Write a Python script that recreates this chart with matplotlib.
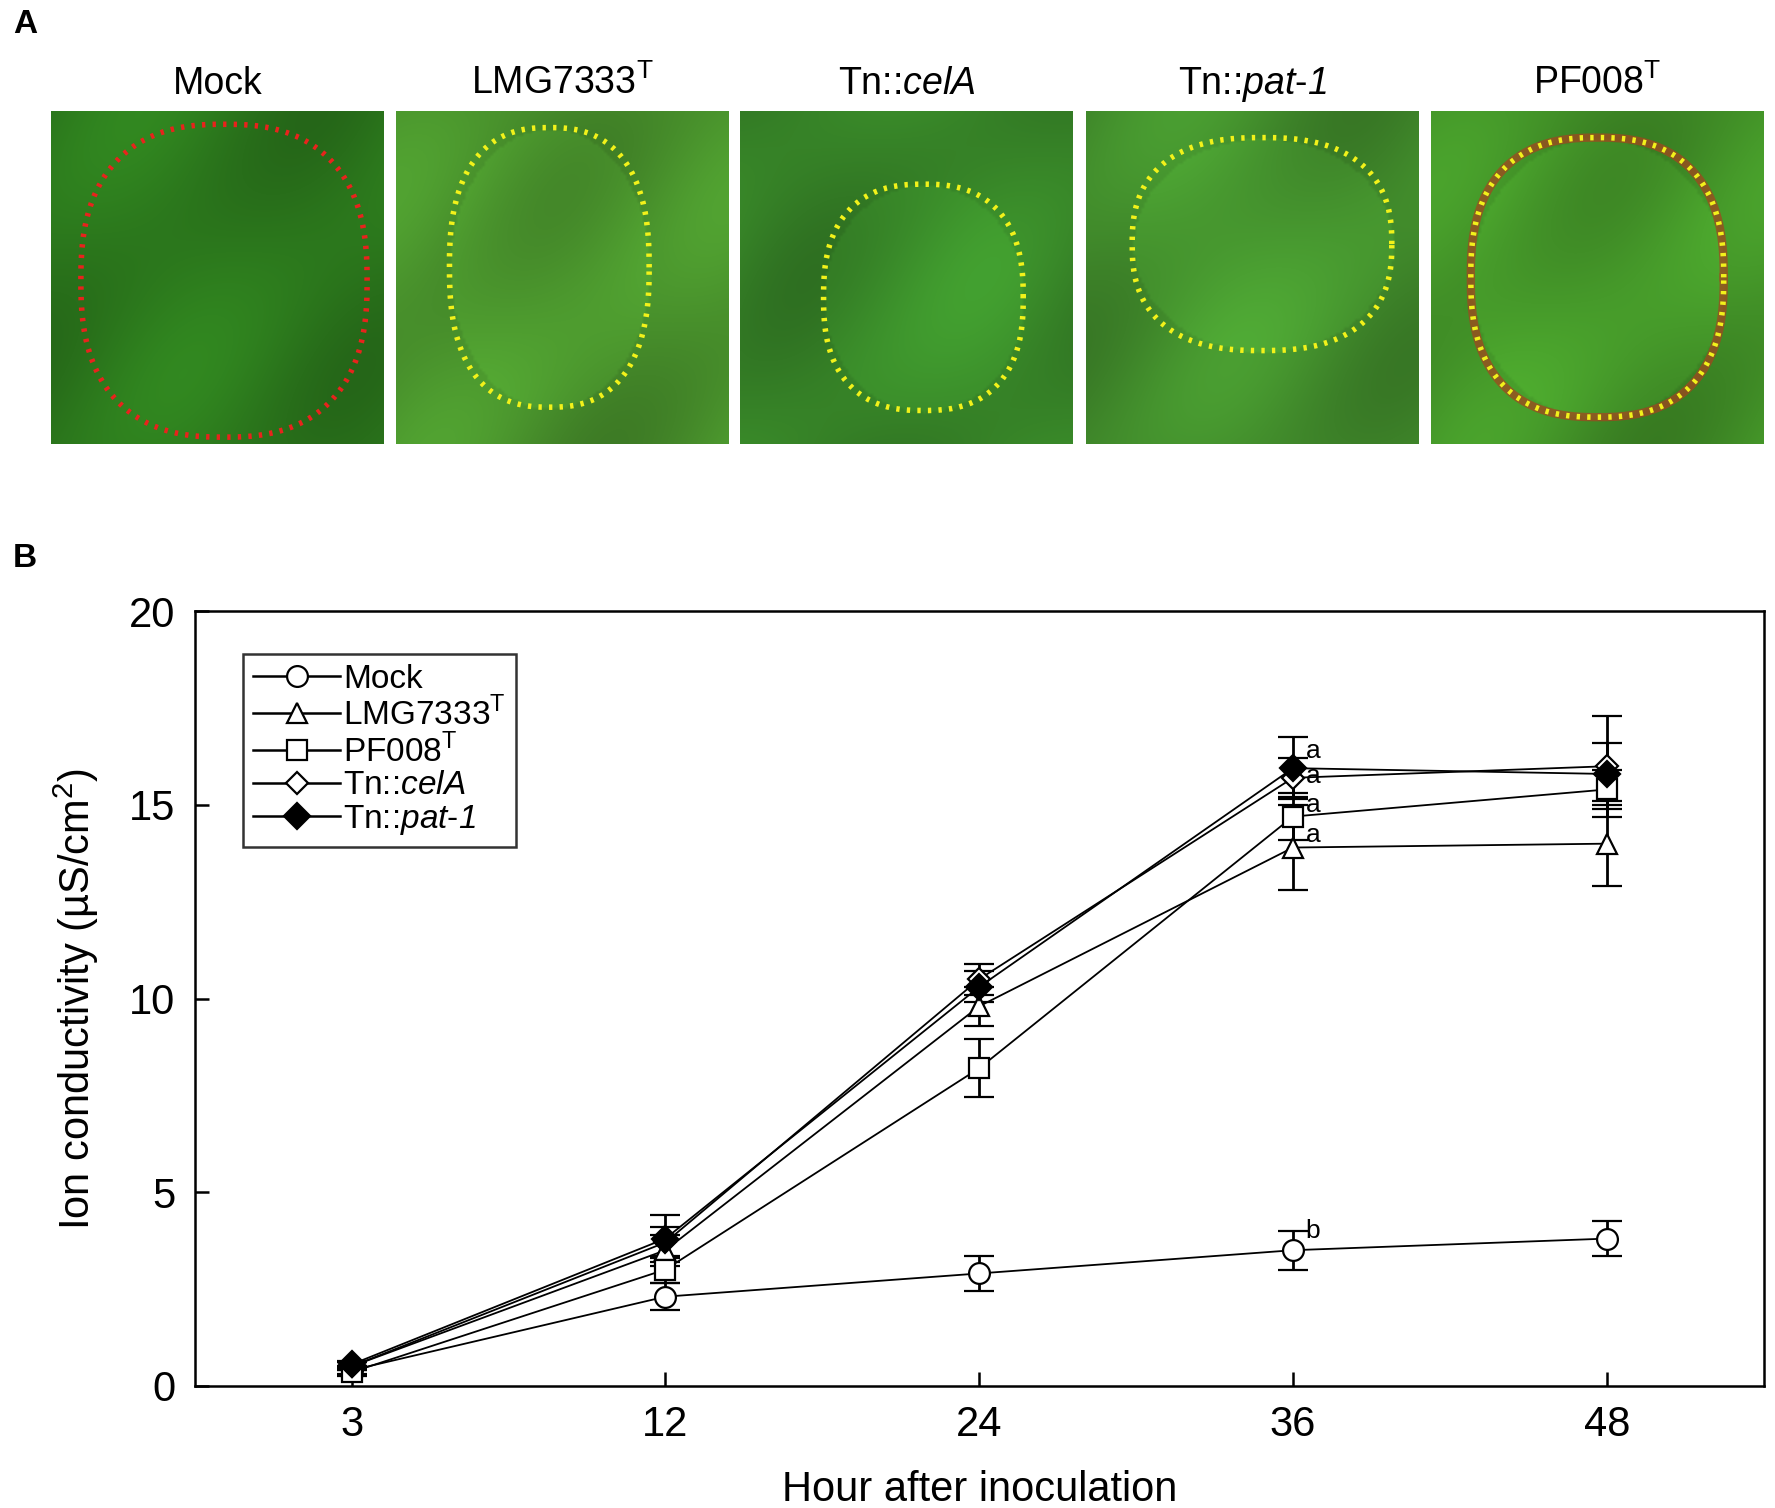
import numpy as np
import matplotlib
matplotlib.use('Agg')
import matplotlib.pyplot as plt
from matplotlib.lines import Line2D

plt.rcParams['font.family'] = ['Liberation Sans Narrow', 'Liberation Sans', 'DejaVu Sans']
plt.rcParams['mathtext.fontset'] = 'custom'
plt.rcParams['mathtext.rm'] = 'Liberation Sans'
plt.rcParams['mathtext.sf'] = 'Liberation Sans:italic'

# ---- data ----
hours = ['3', '12', '24', '36', '48']
strains = ['Mock', 'LMG7333$^\\mathrm{T}$', 'PF008$^\\mathrm{T}$',
           'Tn::$\\mathsf{celA}$', 'Tn::$\\mathsf{pat}$-$\\mathsf{1}$']
mock = [0.4, 2.3, 2.9, 3.5, 3.8]
mock_err = [0.1, 0.35, 0.45, 0.5, 0.45]
lmg = [0.5, 3.5, 9.8, 13.9, 14.0]
lmg_err = [0.1, 0.4, 0.5, 1.1, 1.1]
pf008 = [0.35, 3.0, 8.2, 14.7, 15.4]
pf008_err = [0.1, 0.35, 0.75, 0.6, 0.5]
cela = [0.5, 3.7, 10.5, 15.7, 16.0]
cela_err = [0.1, 0.4, 0.4, 0.5, 1.3]
pat1 = [0.55, 3.8, 10.3, 15.95, 15.8]
pat1_err = [0.1, 0.6, 0.4, 0.8, 0.8]
sig_36 = ['b', 'a', 'a', 'a', 'a']
photo_titles = ['Mock', 'LMG7333$^\\mathrm{T}$', 'Tn::$\\mathsf{celA}$',
                'Tn::$\\mathsf{pat}$-$\\mathsf{1}$', 'PF008$^\\mathrm{T}$']

fig = plt.figure(figsize=(17.75, 15.08), dpi=100)

# ---- panel A: leaf pictures (drawn, not photos) ----
outline_cols = ['#e8231c', '#f2f21a', '#f2f21a', '#f2f21a', '#f2f21a']
# centre x, centre y, half width, half height of the infiltrated zone
zones = [(0.52, 0.49, 0.43, 0.47), (0.46, 0.53, 0.30, 0.42), (0.55, 0.44, 0.30, 0.34),
         (0.53, 0.60, 0.39, 0.32), (0.50, 0.50, 0.38, 0.42)]
bases = [(0.20, 0.55, 0.13), (0.33, 0.66, 0.20), (0.25, 0.60, 0.18),
         (0.30, 0.64, 0.20), (0.30, 0.66, 0.18)]
img_left = [45, 350, 654, 959, 1264]
yy, xx = np.mgrid[0:120, 0:120] / 120.0
for i in range(5):
    ax = fig.add_axes([img_left[i] / 1568, 1 - 392 / 1332, 294 / 1568, 294 / 1332])
    cx, cy, rx, ry = zones[i]
    r, g, b = bases[i]
    shade = 0.85 + 0.12 * np.sin(6 * xx + 3 * yy + i) * np.cos(4 * yy - i)
    inside = ((xx - cx) / rx) ** 2 + ((yy - (1 - cy)) / ry) ** 2 < 1
    shade = shade + 0.08 * inside * (i > 0)
    img = np.dstack([r * shade, g * shade, b * shade]).clip(0, 1)
    ax.imshow(img, extent=(0, 1, 0, 1), aspect='auto', interpolation='bilinear')
    t = np.linspace(0, 2 * np.pi, 200)
    px = cx + rx * np.sign(np.cos(t)) * np.abs(np.cos(t)) ** 0.8
    py = cy + ry * np.sign(np.sin(t)) * np.abs(np.sin(t)) ** 0.8
    if i == 4:
        ax.plot(px, py, color='#a8421e', lw=6, alpha=0.7)
    ax.plot(px, py, color=outline_cols[i], lw=4, ls=(0, (0.6, 1.3)))
    ax.set_xlim(0, 1)
    ax.set_ylim(0, 1)
    ax.axis('off')
    ax.set_title(photo_titles[i], fontsize=27, pad=12)

fig.text(22 / 1568, 1 - 22 / 1332, 'A', fontsize=24, fontweight='bold',
         family='Liberation Sans', va='center', ha='center')
fig.text(22 / 1568, 1 - 493 / 1332, 'B', fontsize=24, fontweight='bold',
         family='Liberation Sans', va='center', ha='center')

# ---- panel B: ion conductivity ----
ax = fig.add_axes([172 / 1568, 1 - 1224 / 1332, (1558 - 172) / 1568, (1224 - 540) / 1332])
x = np.arange(len(hours))
series = [(mock, mock_err, 'o', 'white'), (lmg, lmg_err, '^', 'white'),
          (pf008, pf008_err, 's', 'white'), (cela, cela_err, 'D', 'white'),
          (pat1, pat1_err, 'D', 'black')]
msizes = [15, 15, 15, 11, 13]
# vertical offsets (points) of the significance letters at 36 h
sig_dy = [14, 9, 8, 1, 12]
handles = []
for k, (vals, errs, mk, fc) in enumerate(series):
    ax.errorbar(x, vals, yerr=errs, color='black', lw=1.3, marker=mk,
                ms=msizes[k], mfc=fc, mec='black', mew=1.6,
                ecolor='black', elinewidth=2, capsize=11, capthick=2)
    handles.append(Line2D([], [], color='black', lw=1.8, marker=mk, ms=msizes[k],
                          mfc=fc, mec='black', mew=1.6, label=strains[k]))
    ax.annotate(sig_36[k], (x[3], vals[3]), xytext=(9, sig_dy[k]),
                textcoords='offset points', fontsize=19, ha='left', va='center')

ax.set_xlim(-0.5, 4.5)
ax.set_ylim(0, 20)
ax.set_yticks([0, 5, 10, 15, 20])
ax.set_xticks(x)
ax.set_xticklabels(hours)
ax.tick_params(direction='in', length=10, width=1.8, labelsize=30, pad=14)
for s in ax.spines.values():
    s.set_linewidth(1.8)
ax.set_xlabel('Hour after inoculation', fontsize=30, labelpad=18)
ax.set_ylabel('Ion conductivity (µS/cm$^2$)', fontsize=30, labelpad=20)

leg = ax.legend(handles=handles, loc='upper left', bbox_to_anchor=(0.031, 0.945),
                fontsize=24, frameon=True, fancybox=False, edgecolor='black',
                handlelength=2.6, handletextpad=0.1, labelspacing=0.05,
                borderpad=0.3, borderaxespad=0)
leg.get_frame().set_linewidth(1.8)

fig.savefig('out.png', dpi=100)
